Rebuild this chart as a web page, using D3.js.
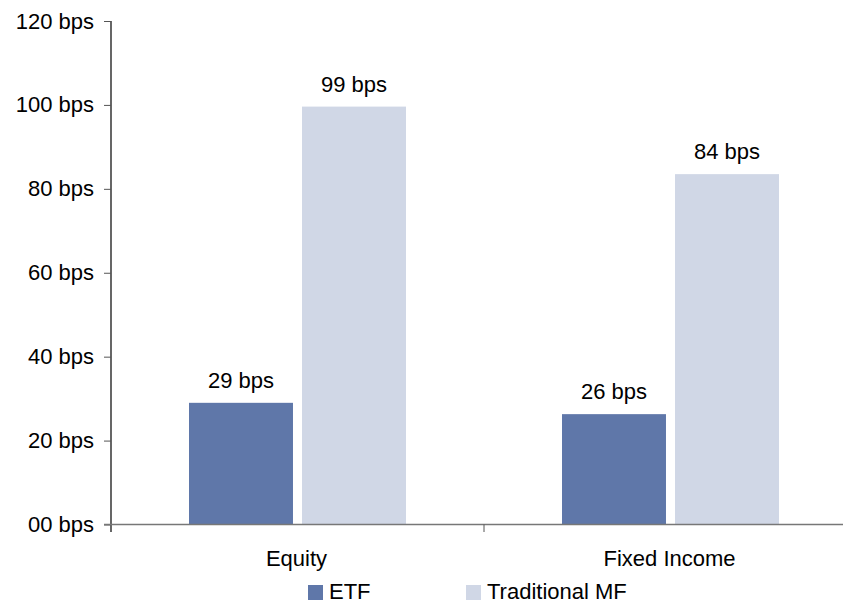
<!DOCTYPE html>
<html>
<head>
<meta charset="utf-8">
<script src="https://cdn.jsdelivr.net/npm/d3@7"></script>
<style>
  body { margin: 0; background: #fff; }
  text { font-family: "Liberation Sans", Arial, sans-serif; fill: #000; }
</style>
</head>
<body>
<script>
var categories = ["Equity", "Fixed Income"];
var series = ["ETF", "Traditional MF"];
var etfValues = [29.0, 26.3];
var mfValues = [99.6, 83.5];
var valueLabels = [["29 bps", "99 bps"], ["26 bps", "84 bps"]];
var yTicks = [0, 20, 40, 60, 80, 100, 120];
var yTickLabels = ["00 bps", "20 bps", "40 bps", "60 bps", "80 bps", "100 bps", "120 bps"];
var colors = ["#5f77a9", "#d0d7e6"];

var svg = d3.select("body").append("svg")
    .attr("width", 843)
    .attr("height", 603);

var y = d3.scaleLinear().domain([0, 120]).range([524.5, 21]);
var x0 = d3.scaleBand().domain(categories).range([111, 857]).paddingInner(0).paddingOuter(0);
var x1 = d3.scaleBand().domain(series).range([0, 217]).paddingInner(0.08);
var groupOffset = (x0.bandwidth() - 217) / 2;

var rows = categories.map(function (c, i) {
    return { cat: c, vals: [etfValues[i], mfValues[i]], labels: valueLabels[i] };
});

// bars
var groups = svg.selectAll("g.grp").data(rows).enter().append("g")
    .attr("class", "grp")
    .attr("transform", function (d) { return "translate(" + (x0(d.cat) + groupOffset) + ",0)"; });

groups.selectAll("rect").data(function (d) {
    return d.vals.map(function (v, j) { return { s: series[j], v: v, label: d.labels[j], j: j }; });
}).enter().append("rect")
    .attr("x", function (d) { return x1(d.s); })
    .attr("y", function (d) { return y(d.v); })
    .attr("width", x1.bandwidth())
    .attr("height", function (d) { return y(0) - y(d.v); })
    .attr("fill", function (d) { return colors[d.j]; });

groups.selectAll("text").data(function (d) {
    return d.vals.map(function (v, j) { return { s: series[j], v: v, label: d.labels[j] }; });
}).enter().append("text")
    .attr("x", function (d) { return x1(d.s) + x1.bandwidth() / 2; })
    .attr("y", function (d) { return y(d.v) - 15; })
    .attr("text-anchor", "middle")
    .style("font-size", "22px")
    .text(function (d) { return d.label; });

// y axis
var yAxis = d3.axisLeft(y)
    .tickValues(yTicks)
    .tickSize(7)
    .tickPadding(10)
    .tickFormat(function (d, i) { return yTickLabels[i]; });
var gy = svg.append("g").attr("transform", "translate(111,0)").call(yAxis);
gy.select(".domain").attr("d", "M0,21V532").attr("stroke", "#000").attr("stroke-width", 1.2);
gy.selectAll(".tick line").attr("stroke", "#555");
gy.selectAll(".tick text").style("font-size", "22px").attr("fill", "#000")
    .style("font-family", "Liberation Sans, Arial, sans-serif");

// x axis
svg.append("line")
    .attr("x1", 104).attr("x2", 843)
    .attr("y1", y(0)).attr("y2", y(0))
    .attr("stroke", "#777").attr("stroke-width", 1.5);
svg.selectAll("line.xtick").data(categories.slice(1)).enter().append("line")
    .attr("class", "xtick")
    .attr("x1", function (d) { return x0(d); }).attr("x2", function (d) { return x0(d); })
    .attr("y1", y(0)).attr("y2", 532)
    .attr("stroke", "#555");
svg.selectAll("text.cat").data(categories).enter().append("text")
    .attr("class", "cat")
    .attr("x", function (d) { return x0(d) + x0.bandwidth() / 2 - 1; })
    .attr("y", 566)
    .attr("text-anchor", "middle")
    .style("font-size", "22px")
    .text(function (d) { return d; });

// legend
var legendX = [308, 466];
var leg = svg.selectAll("g.leg").data(series).enter().append("g")
    .attr("class", "leg")
    .attr("transform", function (d, i) { return "translate(" + legendX[i] + ",585)"; });
leg.append("rect").attr("width", 15).attr("height", 15)
    .attr("fill", function (d, i) { return colors[i]; });
leg.append("text").attr("x", 21).attr("y", 14)
    .style("font-size", "22px")
    .text(function (d) { return d; });
</script>
</body>
</html>
